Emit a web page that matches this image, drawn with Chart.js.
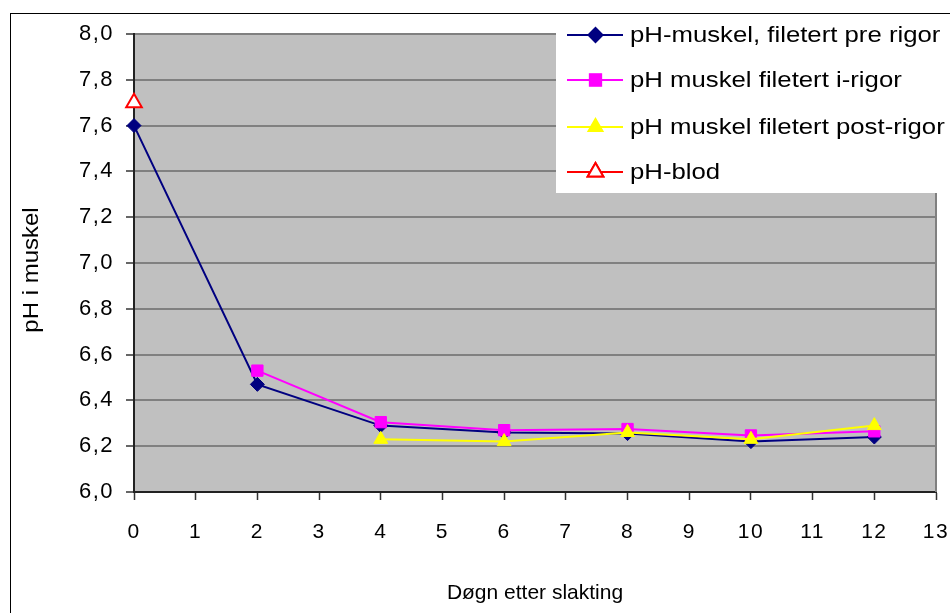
<!DOCTYPE html>
<html>
<head>
<meta charset="utf-8">
<script src="https://cdn.jsdelivr.net/npm/chart.js@4.4.1/dist/chart.umd.min.js"></script>
<style>
  html, body { margin: 0; padding: 0; background: #fff; }
  #wrap { width: 950px; height: 613px; position: relative; }
</style>
</head>
<body>
<div id="wrap"><canvas id="myChart"></canvas></div>
<script>
// Days after slaughter
const days = [0, 2, 4, 6, 8, 10, 12];
const preRigor = [7.60, 6.47, 6.29, 6.26, 6.255, 6.22, 6.24];
const iRigor = [null, 6.53, 6.305, 6.27, 6.275, 6.247, 6.265];
const postRigor = [null, null, 6.23, 6.22, 6.26, 6.23, 6.29];
const blood = [7.70, null, null, null, null, null, null];

const seriesLabels = [
    'pH-muskel, filetert pre rigor',
    'pH muskel filetert i-rigor',
    'pH muskel filetert post-rigor',
    'pH-blod'
];
const xTitle = 'Døgn etter slakting';
const yTitle = 'pH i muskel';

const FONT = 'Liberation Sans, Arial, sans-serif';

function toPoints(values) {
    return days.map((d, i) => ({ x: d, y: values[i] })).filter(p => p.y !== null);
}

const plotFrame = {
    id: 'plotFrame',
    beforeDraw(chart) {
        const ctx = chart.ctx;
        const a = chart.chartArea;
        ctx.fillStyle = '#ffffff';
        ctx.fillRect(0, 0, chart.width, chart.height);
        // outer chart border
        ctx.strokeStyle = '#000000';
        ctx.lineWidth = 1;
        ctx.strokeRect(10.5, 13.5, chart.width + 20, chart.height + 20);
        // plot area
        ctx.fillStyle = '#c0c0c0';
        ctx.fillRect(a.left, a.top, a.right - a.left, a.bottom - a.top);
        // the old excel text is a bit wider than normal
        ctx.letterSpacing = '1.5px';
    },
    beforeDatasetsDraw(chart) {
        const ctx = chart.ctx;
        const a = chart.chartArea;
        ctx.save();
        ctx.strokeStyle = '#808080';
        ctx.lineWidth = 2;
        ctx.beginPath();
        ctx.moveTo(a.right, a.top);
        ctx.lineTo(a.right, a.bottom);
        ctx.stroke();
        ctx.restore();
    }
};

// legend box drawn over the top right of the plot, plus axis titles
const boxLegend = {
    id: 'boxLegend',
    afterDraw(chart) {
        const ctx = chart.ctx;
        const a = chart.chartArea;
        ctx.save();
        ctx.fillStyle = '#ffffff';
        ctx.fillRect(556, 14, 400, 179);
        const rows = [35, 80, 127, 172];
        chart.data.datasets.forEach((ds, i) => {
            const y = rows[i];
            ctx.strokeStyle = ds.borderColor;
            ctx.lineWidth = 2;
            ctx.beginPath();
            ctx.moveTo(567, y);
            ctx.lineTo(623, y);
            ctx.stroke();
            Chart.helpers.drawPoint(ctx, {
                pointStyle: ds.pointStyle,
                radius: ds.pointRadius,
                borderWidth: ds.pointBorderWidth || 1,
                rotation: 0
            }, 595.5, y);
            ctx.fillStyle = ds.pointBackgroundColor;
            ctx.strokeStyle = ds.pointBorderColor;
            ctx.lineWidth = ds.pointBorderWidth || 1;
            ctx.fill();
            ctx.stroke();

            ctx.save();
            ctx.fillStyle = '#000000';
            ctx.font = '22px ' + FONT;
            ctx.letterSpacing = '0px';
            ctx.textBaseline = 'middle';
            ctx.textAlign = 'left';
            ctx.translate(630, y + 1);
            ctx.scale(1.17, 1);
            ctx.fillText(ds.label, 0, 0);
            ctx.restore();
        });

        ctx.fillStyle = '#000000';
        ctx.textAlign = 'center';
        ctx.textBaseline = 'middle';
        ctx.font = '21px ' + FONT;
        ctx.letterSpacing = '0px';
        ctx.fillText(xTitle, (a.left + a.right) / 2, 593);

        ctx.font = '22px ' + FONT;
        ctx.translate(32, 270);
        ctx.rotate(-Math.PI / 2);
        ctx.scale(1.09, 1);
        ctx.fillText(yTitle, 0, 0);
        ctx.restore();
    }
};

const ctx = document.getElementById('myChart').getContext('2d');
new Chart(ctx, {
    type: 'line',
    data: {
        datasets: [
            {
                label: seriesLabels[0],
                data: toPoints(preRigor),
                borderColor: '#000080',
                borderWidth: 2,
                pointStyle: 'rectRot',
                pointRadius: 7,
                pointBackgroundColor: '#000080',
                pointBorderColor: '#000080',
                pointBorderWidth: 1,
                order: 4
            },
            {
                label: seriesLabels[1],
                data: toPoints(iRigor),
                borderColor: '#ff00ff',
                borderWidth: 2,
                pointStyle: 'rect',
                pointRadius: 8,
                pointBackgroundColor: '#ff00ff',
                pointBorderColor: '#ff00ff',
                pointBorderWidth: 1,
                order: 3
            },
            {
                label: seriesLabels[2],
                data: toPoints(postRigor),
                borderColor: '#ffff00',
                borderWidth: 2,
                pointStyle: 'triangle',
                pointRadius: 8,
                pointBackgroundColor: '#ffff00',
                pointBorderColor: '#ffff00',
                pointBorderWidth: 1,
                order: 2
            },
            {
                label: seriesLabels[3],
                data: toPoints(blood),
                borderColor: '#ff0000',
                borderWidth: 2,
                pointStyle: 'triangle',
                pointRadius: 9,
                pointBackgroundColor: '#ffffff',
                pointBorderColor: '#ff0000',
                pointBorderWidth: 2,
                order: 1
            }
        ]
    },
    options: {
        responsive: true,
        maintainAspectRatio: false,
        animation: false,
        devicePixelRatio: 1,
        layout: { padding: { left: 0, top: 34, right: 14, bottom: 0 } },
        elements: { line: { tension: 0 } },
        datasets: { line: { clip: false } },
        scales: {
            x: {
                type: 'linear',
                min: 0,
                max: 13,
                afterFit: scale => {
                    scale.height = 121;
                    scale.paddingLeft = 0;
                    scale.paddingRight = 0;
                },
                ticks: {
                    stepSize: 1,
                    color: '#000000',
                    font: { family: FONT, size: 21 },
                    padding: 20,
                    maxRotation: 0
                },
                grid: {
                    drawOnChartArea: false,
                    tickLength: 8,
                    tickColor: '#333333',
                    tickWidth: 1.5
                },
                border: { color: '#222222', width: 2 },
                title: { display: false }
            },
            y: {
                min: 6,
                max: 8,
                afterFit: scale => { scale.width = 134; },
                ticks: {
                    stepSize: 0.2,
                    color: '#000000',
                    font: { family: FONT, size: 22 },
                    padding: 12,
                    callback: v => v.toFixed(1).replace('.', ',')
                },
                grid: {
                    color: '#808080',
                    lineWidth: 2,
                    tickLength: 8,
                    tickColor: '#333333',
                    tickWidth: 1.5
                },
                border: { color: '#222222', width: 2 },
                title: { display: false }
            }
        },
        plugins: {
            legend: { display: false },
            tooltip: { enabled: false }
        }
    },
    plugins: [plotFrame, boxLegend]
});
</script>
</body>
</html>
